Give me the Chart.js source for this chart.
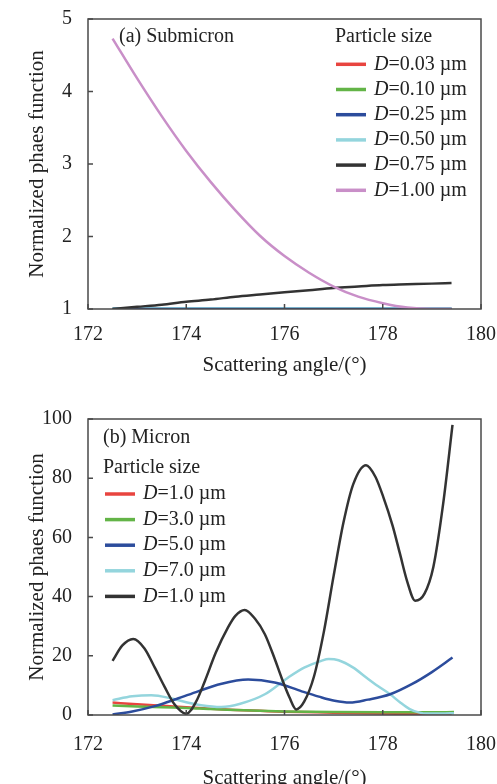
<!DOCTYPE html>
<html>
<head>
<meta charset="utf-8">
<script src="https://cdn.jsdelivr.net/npm/chart.js@4/dist/chart.umd.min.js"></script>
<style>
  body { margin: 0; background: #fff; }
  canvas { display: block; }
</style>
</head>
<body>
<canvas id="chartA" width="497" height="392"></canvas>
<canvas id="chartB" width="497" height="392"></canvas>
<script>
// ---- (a) Submicron ----
var subAngles = [172.5, 173, 173.5, 174, 174.5, 175, 175.5, 176, 176.5, 177, 177.5, 178, 178.5, 179, 179.4];
var subD003 = [1, 1, 1, 1, 1, 1, 1, 1, 1, 1, 1, 1, 1, 1, 1];
var subD010 = [1, 1, 1, 1, 1, 1, 1, 1, 1, 1, 1, 1, 1, 1, 1];
var subD025 = [1, 1, 1, 1, 1, 1, 1, 1, 1, 1, 1, 1, 1, 1, 1];
var subD050 = [1.01, 1.01, 1.01, 1.01, 1.01, 1.01, 1.01, 1.01, 1.01, 1.01, 1.01, 1.01, 1.01, 1.01, 1.01];
var subD075 = [1.0, 1.03, 1.06, 1.10, 1.13, 1.17, 1.20, 1.23, 1.26, 1.29, 1.31, 1.33, 1.34, 1.35, 1.36];
var subD100 = [4.73, 4.18, 3.66, 3.18, 2.75, 2.36, 2.01, 1.73, 1.50, 1.31, 1.17, 1.08, 1.02, 1.0, 1.0];
var subLabels = ['0.03', '0.10', '0.25', '0.50', '0.75', '1.00'];

// ---- (b) Micron ----
var redAngles = [172.5, 173, 173.5, 174, 174.5, 175, 175.5, 176, 177, 178, 178.7, 179.4];
var redVals = [4.2, 3.6, 3.1, 2.6, 2.1, 1.7, 1.4, 1.1, 0.8, 0.5, 0.3, 0.1];
var greenAngles = [172.5, 173, 173.5, 174, 174.5, 175, 175.5, 176, 177, 178, 179, 179.45];
var greenVals = [3.2, 2.9, 2.6, 2.4, 2.0, 1.7, 1.4, 1.2, 1.0, 0.9, 0.9, 1.0];
var blueAngles = [172.5, 172.9, 173.36, 173.8, 174.24, 174.7, 175.26, 175.8, 176.35, 176.7, 177.02, 177.33, 177.7, 178.15, 178.6, 179.0, 179.42];
var blueVals = [0.2, 1.2, 3, 5.4, 8, 10.5, 12, 11, 8, 6.2, 4.8, 4.2, 5.2, 7, 10.5, 14.5, 19.4];
var cyanAngles = [172.5, 172.9, 173.29, 173.7, 174.0, 174.3, 174.71, 175.1, 175.6, 176.07, 176.4, 176.75, 176.9, 177.1, 177.4, 177.67, 177.9, 178.15, 178.35, 178.55, 178.75, 178.9, 179.2, 179.45];
var cyanVals = [5, 6.3, 6.7, 5.6, 4.3, 3.3, 2.7, 3.8, 7, 12.6, 16, 18.3, 18.9, 18.5, 16, 12.6, 9.8, 7, 4.3, 2, 0.8, 0.5, 0.5, 0.6];
var blackAngles = [172.5, 172.7, 172.92, 173.15, 173.36, 173.56, 173.76, 174.0, 174.2, 174.38, 174.6, 174.85, 175.0, 175.19, 175.4, 175.6, 175.8, 175.94, 176.1, 176.24, 176.4, 176.6, 176.8, 177.0, 177.2, 177.4, 177.66, 177.85, 178.01, 178.2, 178.35, 178.5, 178.66, 178.85, 179.03, 179.23, 179.42];
var blackVals = [18.3, 23.5, 25.7, 22.5, 16, 9.5, 3.6, 0.4, 4.5, 11.5, 21, 29.6, 33.5, 35.5, 32.5, 27.3, 19, 12.6, 6, 1.9, 4.5, 13, 28, 47, 65, 78, 84.4, 80.5, 73.7, 64, 54.5, 45, 38.6, 41, 50, 71.4, 98];
var micLabels = ['1.0', '3.0', '5.0', '7.0', '1.0'];

var colors = {
  red: '#e8443f',
  green: '#63b447',
  blue: '#2c4c9c',
  cyan: '#94d5dd',
  black: '#333333',
  pink: '#c98fc8'
};

var SERIF = '"Liberation Serif", "Times New Roman", serif';

function pts(xs, ys) {
  return xs.map(function (x, i) { return { x: x, y: ys[i] }; });
}

function line(data, color, order) {
  return {
    data: data,
    borderColor: color,
    backgroundColor: color,
    borderWidth: 2.5,
    pointRadius: 0,
    fill: false,
    cubicInterpolationMode: 'monotone',
    order: order
  };
}

// frame, inner ticks, panel caption and the legend with italic D
var framePlugin = {
  id: 'frame',
  afterDraw: function (chart) {
    var ctx = chart.ctx, a = chart.chartArea;
    var xs = chart.scales.x, ys = chart.scales.y;
    ctx.save();
    ctx.strokeStyle = '#4a4a4a';
    ctx.lineWidth = 1.5;
    ctx.strokeRect(a.left, a.top, a.right - a.left, a.bottom - a.top);
    ctx.beginPath();
    xs.ticks.forEach(function (t) {
      var px = xs.getPixelForValue(t.value);
      ctx.moveTo(px, a.bottom);
      ctx.lineTo(px, a.bottom - 5);
    });
    ys.ticks.forEach(function (t) {
      var py = ys.getPixelForValue(t.value);
      ctx.moveTo(a.left, py);
      ctx.lineTo(a.left + 5, py);
    });
    ctx.stroke();

    var lg = chart.options.plugins.frame;
    ctx.fillStyle = '#222';
    ctx.textBaseline = 'middle';
    ctx.textAlign = 'left';
    ctx.font = '20px ' + SERIF;
    ctx.fillText(lg.caption, lg.capX, lg.capY);
    var y = lg.y;
    ctx.fillText('Particle size', lg.x, y);
    y += lg.firstGap;
    lg.labels.forEach(function (lab, i) {
      ctx.strokeStyle = lg.colors[i];
      ctx.lineWidth = 3.5;
      ctx.beginPath();
      ctx.moveTo(lg.lineX, y);
      ctx.lineTo(lg.lineX + 30, y);
      ctx.stroke();
      var tx = lg.lineX + 38;
      ctx.font = 'italic 20px ' + SERIF;
      ctx.fillText('D', tx, y);
      tx += ctx.measureText('D').width;
      ctx.font = '20px ' + SERIF;
      ctx.fillText('=' + lab + ' \u00b5m', tx, y);
      y += lg.rowH;
    });
    ctx.restore();
  }
};

function makeOptions(yMin, yMax, yStep, padTop, xHeight, tickPad, titlePadBottom, legend) {
  return {
    responsive: false,
    animation: false,
    layout: { padding: { top: padTop, right: 16, left: 0, bottom: 0 } },
    plugins: {
      legend: { display: false },
      tooltip: { enabled: false },
      frame: legend
    },
    scales: {
      x: {
        type: 'linear',
        min: 172,
        max: 180,
        grid: { display: false, drawTicks: false },
        border: { display: false },
        ticks: { stepSize: 2, color: '#222', padding: tickPad, font: { family: SERIF, size: 20 } },
        title: {
          display: true,
          text: 'Scattering angle/(\u00b0)',
          color: '#222',
          font: { family: SERIF, size: 21 },
          padding: { top: 0, bottom: titlePadBottom }
        },
        afterFit: function (s) {
          s.height = xHeight;
          s.paddingLeft = 0;
          s.paddingRight = 0;
        }
      },
      y: {
        min: yMin,
        max: yMax,
        grid: { display: false, drawTicks: false },
        border: { display: false },
        ticks: { stepSize: yStep, color: '#222', padding: 16, font: { family: SERIF, size: 20 } },
        title: {
          display: true,
          text: 'Normalized phaes function',
          color: '#222',
          font: { family: SERIF, size: 21 },
          padding: { top: 25, bottom: 0 }
        },
        afterFit: function (s) {
          s.width = 88;
          s.paddingTop = 0;
          s.paddingBottom = 0;
        }
      }
    }
  };
}

new Chart(document.getElementById('chartA').getContext('2d'), {
  type: 'line',
  data: {
    datasets: [
      line(pts(subAngles, subD003), colors.red, 5),
      line(pts(subAngles, subD010), colors.green, 4),
      line(pts(subAngles, subD050), colors.cyan, 3),
      line(pts(subAngles, subD025), colors.blue, 2),
      line(pts(subAngles, subD075), colors.black, 1),
      line(pts(subAngles, subD100), colors.pink, 0)
    ]
  },
  options: makeOptions(1, 5, 1, 19, 83, 14, 14, {
    caption: '(a) Submicron', capX: 119, capY: 37,
    x: 335, y: 37, firstGap: 27.3, rowH: 25.2, lineX: 336,
    labels: subLabels,
    colors: [colors.red, colors.green, colors.blue, colors.cyan, colors.black, colors.pink]
  }),
  plugins: [framePlugin]
});

new Chart(document.getElementById('chartB').getContext('2d'), {
  type: 'line',
  data: {
    datasets: [
      line(pts(redAngles, redVals), colors.red, 4),
      line(pts(greenAngles, greenVals), colors.green, 3),
      line(pts(cyanAngles, cyanVals), colors.cyan, 2),
      line(pts(blueAngles, blueVals), colors.blue, 1),
      line(pts(blackAngles, blackVals), colors.black, 0)
    ]
  },
  options: makeOptions(0, 100, 20, 27, 69, 18, -7, {
    caption: '(b) Micron', capX: 103, capY: 46,
    x: 103, y: 76, firstGap: 26, rowH: 25.6, lineX: 105,
    labels: micLabels,
    colors: [colors.red, colors.green, colors.blue, colors.cyan, colors.black]
  }),
  plugins: [framePlugin]
});
</script>
</body>
</html>
